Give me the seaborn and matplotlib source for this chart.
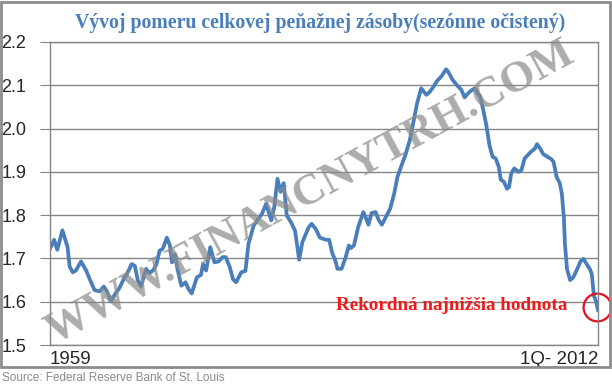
import numpy as np
import pandas as pd
import seaborn as sns
import matplotlib.pyplot as plt
from matplotlib.patches import Rectangle

# hodnoty odcitane z grafu (rok, pomer)
roky = [1959.0, 1959.4, 1959.7, 1960.2, 1960.7, 1960.9, 1961.2, 1961.5, 1962.0, 1962.5,
        1962.9, 1963.3, 1963.8, 1964.2, 1964.5, 1964.9, 1965.3, 1965.7, 1966.2, 1966.4,
        1966.9, 1967.2, 1967.5, 1967.8, 1968.3, 1968.6, 1969.0, 1969.3, 1969.6, 1969.9,
        1970.3, 1970.6, 1970.8, 1971.1, 1971.3, 1971.7, 1972.1, 1972.4, 1972.7, 1973.2,
        1973.6, 1973.8, 1974.1, 1974.5, 1974.9, 1975.3, 1975.7, 1976.0, 1976.4, 1976.7,
        1977.0, 1977.5, 1977.9, 1978.2, 1978.7, 1979.1, 1979.5, 1979.9, 1980.4, 1980.7,
        1981.0, 1981.3, 1981.6, 1981.9, 1982.3, 1982.7, 1983.1, 1983.4, 1984.0, 1984.3,
        1984.7, 1985.1, 1985.7, 1986.0, 1986.3, 1986.6, 1986.8, 1987.2, 1987.6, 1987.9,
        1988.1, 1988.4, 1988.8, 1989.3, 1989.5, 1989.8, 1990.1, 1990.5, 1990.8, 1991.1,
        1991.4, 1991.9, 1992.3, 1992.6, 1993.0, 1993.4, 1993.8, 1994.2, 1994.5, 1994.9,
        1995.4, 1995.7, 1996.1, 1996.4, 1996.9, 1997.3, 1997.5, 1997.9, 1998.4, 1998.8,
        1999.1, 1999.5, 1999.8, 2000.1, 2000.4, 2000.6, 2000.9, 2001.2, 2001.5, 2001.8,
        2002.1, 2002.4, 2002.6, 2002.9, 2003.2, 2003.4, 2003.6, 2003.9, 2004.3, 2004.6,
        2004.9, 2005.3, 2005.5, 2005.9, 2006.1, 2006.4, 2006.7, 2007.1, 2007.5, 2007.7,
        2008.0, 2008.3, 2008.5, 2008.7, 2008.8, 2009.0, 2009.3, 2009.6, 2010.0, 2010.3,
        2010.6, 2010.9, 2011.2, 2011.4, 2011.6, 2011.8, 2012.0]
pomer = [1.722, 1.743, 1.720, 1.765, 1.726, 1.681, 1.668, 1.672, 1.693, 1.672,
         1.649, 1.627, 1.624, 1.635, 1.624, 1.601, 1.618, 1.631, 1.656, 1.662,
         1.687, 1.683, 1.649, 1.635, 1.676, 1.666, 1.673, 1.687, 1.718, 1.722,
         1.748, 1.730, 1.691, 1.710, 1.679, 1.637, 1.645, 1.629, 1.619, 1.656,
         1.662, 1.687, 1.672, 1.726, 1.691, 1.693, 1.703, 1.703, 1.679, 1.652,
         1.645, 1.668, 1.671, 1.734, 1.776, 1.790, 1.803, 1.826, 1.788, 1.820,
         1.884, 1.854, 1.874, 1.799, 1.784, 1.764, 1.697, 1.737, 1.771, 1.780,
         1.768, 1.748, 1.743, 1.743, 1.712, 1.695, 1.676, 1.676, 1.703, 1.730,
         1.724, 1.730, 1.772, 1.807, 1.797, 1.778, 1.805, 1.807, 1.788, 1.778,
         1.792, 1.815, 1.851, 1.888, 1.915, 1.941, 1.973, 2.021, 2.058, 2.093,
         2.078, 2.084, 2.097, 2.109, 2.122, 2.137, 2.132, 2.114, 2.099, 2.089,
         2.072, 2.083, 2.089, 2.093, 2.080, 2.075, 2.043, 2.008, 1.962, 1.935,
         1.931, 1.912, 1.882, 1.877, 1.861, 1.865, 1.896, 1.908, 1.900, 1.904,
         1.931, 1.941, 1.946, 1.954, 1.964, 1.954, 1.941, 1.935, 1.929, 1.923,
         1.888, 1.874, 1.850, 1.795, 1.734, 1.676, 1.650, 1.656, 1.676, 1.693,
         1.699, 1.687, 1.676, 1.664, 1.614, 1.602, 1.580]

y_ticks = [1.5, 1.6, 1.7, 1.8, 1.9, 2.0, 2.1, 2.2]
x_labels = ["1959", "1Q- 2012"]

df = pd.DataFrame({"rok": roky, "pomer": pomer})

sns.set_style("white")
plt.rcParams['font.family'] = ['Liberation Sans', 'DejaVu Sans']

fig = plt.figure(figsize=(6.12, 3.91), dpi=100)
ax = fig.add_axes([50/612, 1-345/391, 548/612, 303/391])

sns.lineplot(data=df, x="rok", y="pomer", ax=ax, color="#4A7EBB", linewidth=2.7)

ax.set_xlim(roky[0], roky[-1])
ax.set_ylim(1.5, 2.2)
ax.set_yticks(y_ticks)
ax.set_yticklabels([f"{v:.1f}" for v in y_ticks], fontsize=13)
ax.grid(axis="y", color="#868686", linewidth=1)
ax.set_axisbelow(True)
for s in ax.spines.values():
    s.set_color("#868686")
    s.set_linewidth(1)
ax.tick_params(axis="y", left=True, length=7, color="#868686", pad=10)
ax.set_xticks([roky[0], roky[-1]])
ax.set_xticklabels(x_labels, fontsize=13.5)
ax.tick_params(axis="x", bottom=False, pad=1)
lbls = ax.get_xticklabels()
lbls[0].set_horizontalalignment("left")
lbls[1].set_horizontalalignment("right")
ax.set_xlabel("")
ax.set_ylabel("")

# cerveny kruh okolo poslednej hodnoty
ax.plot(roky[-1] - 0.1, pomer[-1] + 0.007, marker="o", markersize=20, markerfacecolor="none",
        markeredgecolor="#E8101A", markeredgewidth=1.6, clip_on=False)

ax.text(0.945, 0.13, "Rekordná najnižšia hodnota", transform=ax.transAxes,
        ha="right", va="center", color="#F01A1A", fontsize=13.8, fontweight="bold",
        family=["Liberation Serif", "DejaVu Serif"])

fig.text(320/612, 1-23/391, "Vývoj pomeru celkovej peňažnej zásoby(sezónne očistený)",
         ha="center", va="center", color="#4A7EBB", fontsize=14.2, fontweight="bold",
         family=["Liberation Serif", "DejaVu Serif"])

# vodoznak
fig.text(310/612, 1-193/391, "WWW.FINANCNYTRH.COM", ha="center", va="center",
         rotation=28.5, color="#8C8C8C", alpha=0.72, fontsize=32, fontweight="bold",
         family=["Liberation Serif", "DejaVu Serif"], zorder=5)

# ramik okolo grafu
fig.patches.append(Rectangle((1/612, 1-367/391), 609/612, 365/391, transform=fig.transFigure,
                             fill=False, edgecolor="#8C8C8C", linewidth=2))

fig.text(2/612, 1-378/391, "Source: Federal Reserve Bank of St. Louis", ha="left", va="center",
         color="#8A8A8A", fontsize=8.5)

fig.savefig("out.png", dpi=100)
